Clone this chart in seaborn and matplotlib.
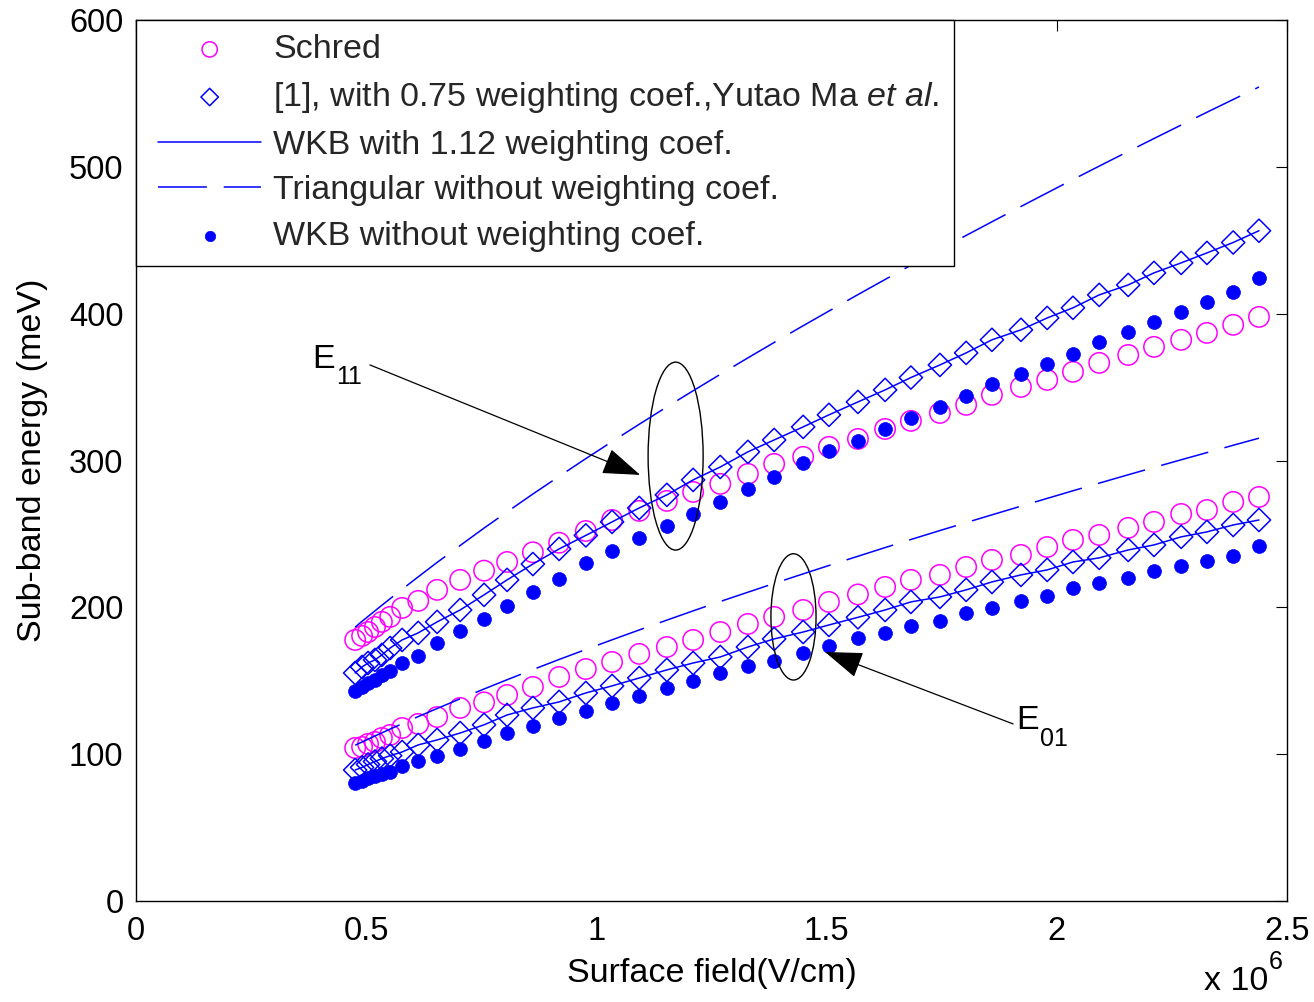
import matplotlib
matplotlib.use("Agg")
import matplotlib.pyplot as plt
from matplotlib.patches import Ellipse
from matplotlib.lines import Line2D
from matplotlib.collections import PathCollection
from matplotlib.legend_handler import HandlerLine2D, HandlerPathCollection
import pandas as pd
import seaborn as sns

# surface field, in units of 1e6 V/cm (shared by every curve)
field = [0.476, 0.491, 0.504, 0.519, 0.534, 0.552, 0.578, 0.613, 0.654, 0.704,
         0.756, 0.806, 0.862, 0.919, 0.977, 1.034, 1.093, 1.153, 1.210, 1.269,
         1.329, 1.386, 1.449, 1.505, 1.568, 1.627, 1.683, 1.746, 1.803, 1.859,
         1.922, 1.979, 2.035, 2.092, 2.155, 2.211, 2.270, 2.326, 2.383, 2.439]

# E11 sub-band (meV)
schred_e11 = [177.8, 180.5, 183.2, 186.6, 190.1, 193.5, 199.6, 204.4, 211.9, 218.7,
              225.0, 230.9, 237.5, 244.0, 252.0, 259.5, 265.7, 272.5, 278.6, 284.1,
              290.9, 297.7, 302.5, 309.3, 314.7, 321.5, 327.0, 332.4, 337.9, 344.7,
              350.1, 354.9, 360.4, 366.5, 371.9, 377.4, 382.2, 386.9, 392.4, 397.8]
ma_e11 = [155.3, 159.4, 162.1, 164.2, 167.6, 172.3, 177.8, 182.6, 190.1, 198.2,
          208.5, 218.7, 229.5, 239.8, 249.0, 258.2, 267.7, 276.6, 286.8, 295.6,
          305.9, 314.0, 322.9, 331.1, 339.9, 348.1, 356.5, 365.1, 373.3, 382.2,
          389.0, 397.1, 404.0, 412.8, 419.6, 427.8, 434.6, 441.4, 448.5, 456.5]
wkb112_e11 = ma_e11  # solid line runs through the diamond centres
tri_e11 = [186.5, 190.5, 193.8, 197.6, 201.4, 205.9, 212.3, 220.8, 230.6, 242.1,
           254.0, 265.0, 277.2, 289.2, 301.3, 312.9, 324.7, 336.5, 347.5, 358.7,
           369.9, 380.4, 391.8, 401.8, 413.0, 423.3, 433.0, 443.7, 453.3, 462.6,
           473.0, 482.3, 491.4, 500.5, 510.5, 519.3, 528.5, 537.2, 545.9, 554.4]
wkb_e11 = [143.1, 145.8, 148.5, 150.5, 154.0, 156.7, 162.1, 166.9, 175.7, 183.9,
           192.1, 200.9, 210.5, 219.3, 230.2, 238.4, 247.3, 255.4, 263.6, 271.8,
           280.7, 288.8, 298.4, 306.5, 313.4, 321.5, 329.0, 336.5, 344.0, 352.2,
           359.0, 365.8, 372.6, 380.8, 387.6, 394.4, 401.2, 408.0, 414.9, 424.0]

# E01 sub-band (meV)
schred_e01 = [104.2, 104.9, 107.0, 108.3, 111.0, 113.1, 117.8, 120.6, 125.3, 131.5,
              135.3, 140.3, 145.8, 152.6, 158.0, 162.8, 168.3, 173.0, 177.8, 183.2,
              188.7, 193.5, 198.2, 203.7, 208.8, 213.9, 218.7, 222.1, 227.5, 232.3,
              235.7, 241.1, 245.9, 249.3, 254.1, 258.2, 263.6, 266.3, 271.8, 275.2]
ma_e01 = [89.2, 91.0, 93.0, 95.0, 97.0, 99.0, 101.5, 106.3, 109.7, 114.4,
          120.0, 126.7, 131.5, 135.6, 141.7, 146.5, 151.9, 157.4, 162.1, 166.2,
          173.0, 178.5, 183.2, 188.0, 193.2, 198.2, 203.7, 207.1, 211.9, 217.3,
          222.1, 225.5, 230.9, 233.7, 239.1, 242.5, 248.0, 251.4, 256.1, 259.5]
wkb112_e01 = ma_e01
tri_e01 = [106.1, 108.3, 110.2, 112.4, 114.5, 117.1, 120.7, 125.6, 131.1, 137.7,
           144.4, 150.7, 157.6, 164.5, 171.3, 177.9, 184.6, 191.3, 197.6, 204.0,
           210.3, 216.3, 222.8, 228.5, 234.8, 240.7, 246.2, 252.3, 257.7, 263.0,
           268.9, 274.2, 279.4, 284.6, 290.3, 295.3, 300.5, 305.4, 310.4, 315.2]
wkb_e01 = [80.4, 82.0, 83.5, 85.0, 86.5, 88.0, 92.0, 95.4, 98.8, 103.5,
           109.0, 114.4, 119.2, 124.7, 129.4, 134.9, 139.6, 145.1, 149.9, 155.3,
           160.1, 163.5, 168.9, 173.7, 179.2, 182.6, 187.3, 190.7, 196.2, 199.6,
           204.4, 207.8, 213.2, 216.6, 220.0, 224.8, 228.2, 231.6, 235.0, 241.8]

df = pd.DataFrame({"field": field,
                   "schred_e11": schred_e11, "ma_e11": ma_e11, "wkb112_e11": wkb112_e11,
                   "tri_e11": tri_e11, "wkb_e11": wkb_e11,
                   "schred_e01": schred_e01, "ma_e01": ma_e01, "wkb112_e01": wkb112_e01,
                   "tri_e01": tri_e01, "wkb_e01": wkb_e01})

sns.set_theme(style="white")
plt.rcParams["font.family"] = ["Liberation Sans", "DejaVu Sans"]
plt.rcParams["mathtext.fontset"] = "custom"
plt.rcParams["mathtext.rm"] = "Liberation Sans"
plt.rcParams["mathtext.it"] = "Liberation Sans:italic"
FS = 24.5      # legend / axis labels
TFS = 23.5     # tick labels

fig = plt.figure(figsize=(13.14, 10.02), dpi=100)
ax = fig.add_axes([0.1035, 0.1008, 0.876, 0.8792])

BLUE = "#0000FF"
MAG = "#FF00FF"
dash = (0, (32, 11))
MA_LABEL = r"[1], with 0.75 weighting coef.,Yutao Ma $\it{et}$ $\it{al.}\hspace{0.3}$"

for i, band in enumerate(["e11", "e01"]):
    first = i == 0
    sns.lineplot(data=df, x="field", y="wkb112_" + band, ax=ax, color=BLUE, lw=1.1,
                 errorbar=None, label="WKB with 1.12 weighting coef." if first else "_nolegend_")
    sns.lineplot(data=df, x="field", y="tri_" + band, ax=ax, color=BLUE, lw=1.1,
                 linestyle=dash, errorbar=None,
                 label="Triangular without weighting coef." if first else "_nolegend_")
    sns.scatterplot(data=df, x="field", y="schred_" + band, ax=ax, marker="o", s=215,
                    facecolors="none", edgecolor=MAG, linewidth=1.1,
                    label="Schred" if first else "_nolegend_")
    sns.scatterplot(data=df, x="field", y="ma_" + band, ax=ax, marker="D", s=140,
                    facecolors="none", edgecolor=BLUE, linewidth=1.1,
                    label=MA_LABEL if first else "_nolegend_")
    sns.scatterplot(data=df, x="field", y="wkb_" + band, ax=ax, marker="o", s=100,
                    color=BLUE, edgecolor=BLUE, linewidth=0.5,
                    label="WKB without weighting coef." if first else "_nolegend_")

ax.set_xlim(0, 2.5)
ax.set_ylim(0, 600)
ax.set_xticks([0, 0.5, 1, 1.5, 2, 2.5])
ax.set_xticklabels(["0", "0.5", "1", "1.5", "2", "2.5"])
ax.set_yticks(range(0, 601, 100))
ax.tick_params(direction="in", length=8, width=0.8, top=True, right=True,
               labelsize=TFS, colors="black")
ax.tick_params(axis="x", pad=11)
ax.tick_params(axis="y", pad=9)
for sp in ax.spines.values():
    sp.set_color("black")
    sp.set_linewidth(1.0)
ax.set_xlabel("Surface field(V/cm)", fontsize=FS, color="black", labelpad=8)
ax.set_ylabel("Sub-band energy (meV)", fontsize=FS, color="black", labelpad=15)
# MATLAB-style exponent under the x axis
ax.text(0.9835, -0.101, "x 10", transform=ax.transAxes, ha="right", va="baseline",
        fontsize=FS, color="black")
ax.text(0.9845, -0.077, "6", transform=ax.transAxes, ha="left", va="baseline",
        fontsize=18, color="black")

# annotations: ellipses, arrows, labels
ax.add_patch(Ellipse((1.172, 303), 0.1195, 128, fill=False, ec="black", lw=1.0))
ax.add_patch(Ellipse((1.428, 193.5), 0.098, 86, fill=False, ec="black", lw=1.0))
arrow = dict(arrowstyle="-|>,head_length=1.2,head_width=0.42", color="black",
             lw=0.9, mutation_scale=20, shrinkA=0, shrinkB=0)
ax.annotate("", xy=(1.095, 290.2), xytext=(0.508, 365.1), arrowprops=arrow)
ax.annotate("", xy=(1.4965, 169.6), xytext=(1.905, 120.6), arrowprops=arrow)
ax.text(0.382, 363.1, "E", fontsize=FS, va="baseline", color="black")
ax.text(0.434, 352.2, "11", fontsize=18, va="baseline", color="black")
ax.text(1.911, 117.2, "E", fontsize=FS, va="baseline", color="black")
ax.text(1.9635, 105.6, "01", fontsize=18, va="baseline", color="black")

handles, labels = ax.get_legend_handles_labels()
order = ["Schred", MA_LABEL, "WKB with 1.12 weighting coef.",
         "Triangular without weighting coef.", "WKB without weighting coef."]
hmap = dict(zip(labels, handles))
leg = ax.legend([hmap[k] for k in order], order, loc="upper left", borderaxespad=0,
                fontsize=FS, frameon=True, fancybox=False, framealpha=1,
                edgecolor="black", handlelength=3.26, handletextpad=0.35,
                borderpad=0.42, labelspacing=0.43, markerscale=0.75,
                handler_map={Line2D: HandlerLine2D(xpad=0.23),
                             PathCollection: HandlerPathCollection(xpad=0.23)})
leg.get_frame().set_linewidth(1.0)

fig.savefig("out.png", dpi=100)
